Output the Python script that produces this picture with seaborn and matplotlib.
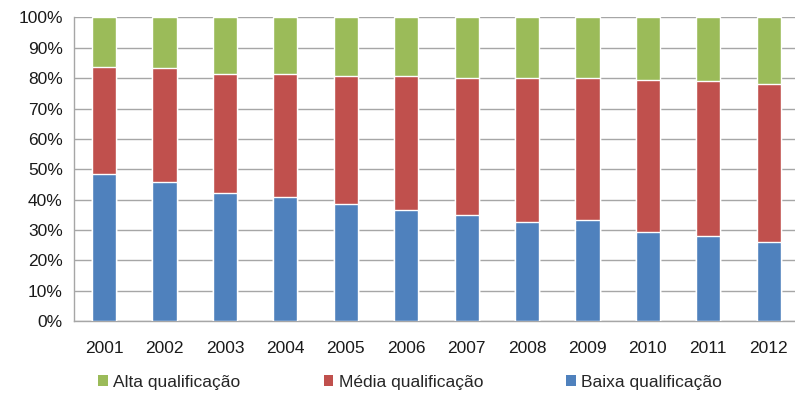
import pandas as pd
import numpy as np
import matplotlib.pyplot as plt
import seaborn as sns
from matplotlib.patches import Patch
from matplotlib.ticker import PercentFormatter, FixedLocator

# --- DATA (share of employment by qualification, %) ---
years = ['2001', '2002', '2003', '2004', '2005', '2006',
         '2007', '2008', '2009', '2010', '2011', '2012']
baixa = [48.4, 45.8, 42.1, 40.9, 38.6, 36.7, 34.9, 32.8, 33.4, 29.2, 28.0, 26.1]
media = [35.2, 37.4, 39.4, 40.6, 42.2, 44.1, 45.3, 47.1, 46.5, 50.1, 51.1, 52.0]
alta = [16.4, 16.8, 18.5, 18.5, 19.2, 19.2, 19.8, 20.1, 20.1, 20.7, 20.9, 21.9]

labels = ['Alta qualificação', 'Média qualificação', 'Baixa qualificação']
colors = {'Alta qualificação': '#9BBB59',
          'Média qualificação': '#C0504D',
          'Baixa qualificação': '#4F81BD'}

df = pd.DataFrame({'ano': years, 'baixa': baixa, 'media': media, 'alta': alta})
df['top_media'] = df['baixa'] + df['media']
df['top_alta'] = df['top_media'] + df['alta']

sns.set_style('white')
plt.rcParams['font.family'] = ['Liberation Sans', 'DejaVu Sans']

fig = plt.figure(figsize=(7.95, 3.96), dpi=100)
ax = fig.add_axes([0.093, 0.189, 0.912, 0.767])

# stacked bars: draw cumulative heights back to front
sns.barplot(data=df, x='ano', y='top_alta', color=colors['Alta qualificação'],
            width=0.4, ax=ax, zorder=3, saturation=1)
sns.barplot(data=df, x='ano', y='top_media', color=colors['Média qualificação'],
            width=0.4, ax=ax, zorder=3, saturation=1)
sns.barplot(data=df, x='ano', y='baixa', color=colors['Baixa qualificação'],
            width=0.4, ax=ax, zorder=3, saturation=1)

ax.set_ylim(0, 100)
ax.set_xlim(-0.5, len(years) - 0.5)
ax.yaxis.set_major_locator(FixedLocator(np.arange(0, 101, 10)))
ax.yaxis.set_major_formatter(PercentFormatter(decimals=0))
ax.grid(axis='y', color='#A6A6A6', linewidth=1.0, zorder=0)
ax.set_axisbelow(True)

# x ticks at category boundaries, labels centered
ax.set_xticks(np.arange(-0.5, len(years), 1.0))
ax.set_xticklabels([])
ax.set_xticks(np.arange(len(years)), minor=True)
ax.set_xticklabels(years, minor=True)
ax.tick_params(axis='x', which='major', direction='out', length=6, width=1, color='#A6A6A6')
ax.tick_params(axis='x', which='minor', length=0, pad=14, labelsize=12.5, labelcolor='#1a1a1a')
ax.tick_params(axis='y', direction='out', length=5, width=1, color='#A6A6A6',
               labelsize=12.5, labelcolor='#1a1a1a', pad=3)

for side in ['top', 'right']:
    ax.spines[side].set_visible(False)
for side in ['left', 'bottom']:
    ax.spines[side].set_color('#A6A6A6')
    ax.spines[side].set_linewidth(1.0)

ax.set_xlabel('')
ax.set_ylabel('')

handles = [Patch(facecolor=colors[l], edgecolor='none') for l in labels]
fig.legend(handles, labels, loc='center', bbox_to_anchor=(0.516, 0.035), ncol=3,
           frameon=False, fontsize=12.5, handlelength=0.55, handleheight=0.55,
           handletextpad=0.3, columnspacing=4.8)

fig.savefig('out.png', dpi=100)
plt.close()
